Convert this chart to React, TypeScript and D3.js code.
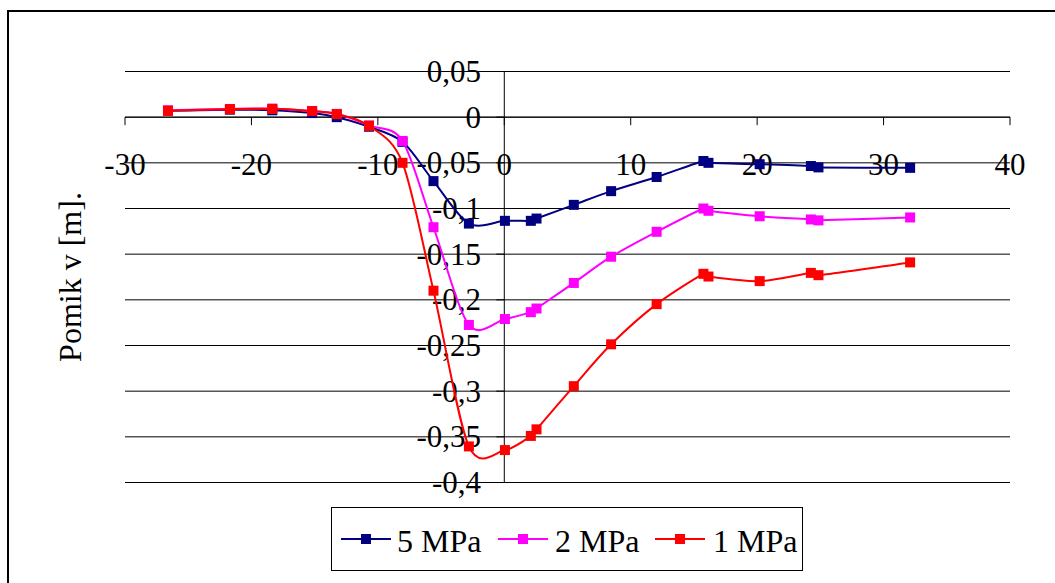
import * as d3 from 'd3';
import React, { useEffect } from 'react';

// x positions along the profile [m]
const xs = [-26.6, -21.7, -18.35, -15.2, -13.25, -10.7, -8.05, -5.6, -2.8, 0.05, 2.1, 2.55, 5.5, 8.45, 12.05, 15.75, 16.15, 20.2, 24.25, 24.85, 32.1];

const mpa5 = [0.007, 0.0082, 0.0075, 0.0045, 0.0, -0.0105, -0.027, -0.070, -0.1165, -0.1135, -0.1135, -0.111, -0.096, -0.081, -0.0655, -0.048, -0.050, -0.0515, -0.0535, -0.055, -0.0555];
const mpa2 = [0.0075, 0.009, 0.0093, 0.0068, 0.0036, -0.009, -0.026, -0.1205, -0.2275, -0.221, -0.2135, -0.2095, -0.1815, -0.1528, -0.1255, -0.1, -0.1025, -0.1085, -0.112, -0.113, -0.1098];
const mpa1 = [0.0069, 0.0088, 0.0091, 0.0066, 0.0033, -0.0095, -0.050, -0.190, -0.3605, -0.3645, -0.349, -0.3418, -0.2945, -0.2487, -0.2047, -0.1715, -0.1745, -0.1795, -0.1705, -0.173, -0.159];

const seriesNames = ['5 MPa', '2 MPa', '1 MPa'];
const seriesColors = ['#000080', '#FF00FF', '#FF0000'];

const xTicks = [-30, -20, -10, 0, 10, 20, 30, 40];
const yTicks = [0.05, 0, -0.05, -0.1, -0.15, -0.2, -0.25, -0.3, -0.35, -0.4];

const font = "'Liberation Serif', 'DejaVu Serif', serif";

export default function App() {
  useEffect(() => {
    document.body.style.margin = '0';
  }, []);

  const width = 1055;
  const height = 583;

  const x = d3.scaleLinear().domain([-30, 40]).range([125, 1010]);
  const y = d3.scaleLinear().domain([-0.4, 0.05]).range([482.5, 71.5]);

  const fmt = (v: number) => String(+v.toFixed(2)).replace('.', ',');

  const line = d3.line<[number, number]>()
    .x(d => x(d[0]))
    .y(d => y(d[1]))
    .curve(d3.curveCardinal.tension(0.1));

  const allSeries = [mpa5, mpa2, mpa1].map(vals => xs.map((v, i) => [v, vals[i]] as [number, number]));

  const legendItems = [
    { lx: 341, tx: 397 },
    { lx: 498, tx: 555 },
    { lx: 655, tx: 713 },
  ];

  return (
    <svg width={width} height={height} style={{ display: 'block', background: '#fff', fontFamily: font }}>
      {/* outer frame */}
      <rect x={8} y={11} width={1100} height={620} fill="none" stroke="#000" strokeWidth={2} />

      {/* grid */}
      {yTicks.map(t => (
        <line key={'g' + t} x1={x(-30)} x2={x(40)} y1={y(t)} y2={y(t)} stroke="#000" strokeWidth={1} />
      ))}

      {/* x axis at y = 0 */}
      <line x1={x(-30)} x2={x(40)} y1={y(0)} y2={y(0)} stroke="#000" strokeWidth={1} />
      {xTicks.map(t => (
        <g key={'xt' + t}>
          <line x1={x(t)} x2={x(t)} y1={y(0)} y2={y(0) + 8} stroke="#000" strokeWidth={1} />
          <text x={x(t)} y={175} textAnchor="middle" style={{ fontFamily: font }} fontSize={31} fill="#000">{t}</text>
        </g>
      ))}

      {/* y axis at x = 0 */}
      <line x1={x(0)} x2={x(0)} y1={y(0.05)} y2={y(-0.4)} stroke="#000" strokeWidth={1} />
      {yTicks.map(t => (
        <g key={'yt' + t}>
          <line x1={x(0) - 8} x2={x(0)} y1={y(t)} y2={y(t)} stroke="#000" strokeWidth={1} />
          <text x={481} y={y(t) + 10.5} textAnchor="end" style={{ fontFamily: font }} fontSize={31} fill="#000">{fmt(t)}</text>
        </g>
      ))}

      {/* y title */}
      <text transform={`translate(81, ${(y(0.05) + y(-0.4)) / 2}) rotate(-90)`} textAnchor="middle" style={{ fontFamily: font }} fontSize={32} fill="#000">Pomik v [m].</text>

      {/* series */}
      {allSeries.map((pts, si) => (
        <g key={'s' + si}>
          <path d={line(pts) || ''} fill="none" stroke={seriesColors[si]} strokeWidth={2} />
          {pts.map((p, i) => (
            <rect key={i} x={x(p[0]) - 5} y={y(p[1]) - 5} width={10} height={10} fill={seriesColors[si]} />
          ))}
        </g>
      ))}

      {/* legend */}
      <rect x={331.5} y={507.5} width={471} height={63} fill="#fff" stroke="#000" strokeWidth={1} />
      {seriesNames.map((name, i) => (
        <g key={'l' + i}>
          <line x1={legendItems[i].lx} x2={legendItems[i].lx + 50} y1={539} y2={539} stroke={seriesColors[i]} strokeWidth={2} />
          <rect x={legendItems[i].lx + 25 - 5} y={534} width={10} height={10} fill={seriesColors[i]} />
          <text x={legendItems[i].tx} y={551.5} style={{ fontFamily: font }} fontSize={32} fill="#000">{name}</text>
        </g>
      ))}
    </svg>
  );
}
